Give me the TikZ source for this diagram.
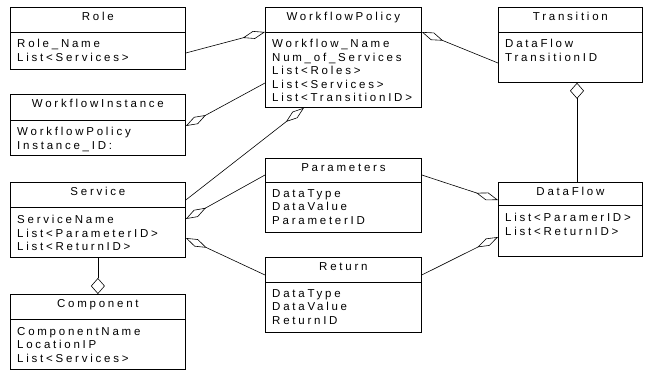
\documentclass[tikz,border=0pt]{standalone}
\usepackage{fontspec}
\setmainfont{Liberation Sans}[LetterSpace=24]
\usetikzlibrary{arrows.meta}

\tikzset{
  classbox/.style={draw, line width=0.8pt, anchor=north west, inner sep=0pt},
  classline/.style={line width=0.8pt},
  classtitle/.style={anchor=base, inner sep=0pt, font=\fontsize{11.5}{13.5}\selectfont},
  classattr/.style={anchor=north west, align=left, inner sep=0pt, font=\fontsize{11.5}{13.5}\selectfont},
  agg/.style={-{Diamond[open, length=23pt, width=8pt]}, line width=0.6pt},
  aggv/.style={-{Diamond[open, length=16pt, width=14pt]}, line width=0.6pt},
}

\begin{document}
\begin{tikzpicture}[x=1pt, y=-1pt]
  \useasboundingbox (0,0) rectangle (645,371);

  % left column
  \node[classbox, minimum width=175pt, minimum height=62pt] (role) at (10,7) {};
  \node[classtitle] (role title) at ([yshift=-14pt]role.north) {Role};
  \draw[classline] ([yshift=-25pt]role.north west) -- ([yshift=-25pt]role.north east);
  \node[classattr] (role attr) at ([xshift=7pt, yshift=-32pt]role.north west) {Role\_Name\\List<Services>};

  \node[classbox, minimum width=175pt, minimum height=61pt] (wfinst) at (10,94) {};
  \node[classtitle] (wfinst title) at ([yshift=-14pt]wfinst.north) {WorkflowInstance};
  \draw[classline] ([yshift=-26pt]wfinst.north west) -- ([yshift=-26pt]wfinst.north east);
  \node[classattr] (wfinst attr) at ([xshift=7pt, yshift=-33pt]wfinst.north west) {WorkflowPolicy\\Instance\_ID:};

  \node[classbox, minimum width=175pt, minimum height=75pt] (service) at (10,182) {};
  \node[classtitle] (service title) at ([yshift=-14pt]service.north) {Service};
  \draw[classline] ([yshift=-25pt]service.north west) -- ([yshift=-25pt]service.north east);
  \node[classattr] (service attr) at ([xshift=7pt, yshift=-33pt]service.north west) {ServiceName\\List<ParameterID>\\List<ReturnID>};

  \node[classbox, minimum width=175pt, minimum height=75pt] (component) at (10,294) {};
  \node[classtitle] (component title) at ([yshift=-14pt]component.north) {Component};
  \draw[classline] ([yshift=-25pt]component.north west) -- ([yshift=-25pt]component.north east);
  \node[classattr] (component attr) at ([xshift=7pt, yshift=-33pt]component.north west) {ComponentName\\LocationIP\\List<Services>};

  % middle column
  \node[classbox, minimum width=156pt, minimum height=100pt] (policy) at (265,7) {};
  \node[classtitle] (policy title) at ([yshift=-14pt]policy.north) {WorkflowPolicy};
  \draw[classline] ([yshift=-25pt]policy.north west) -- ([yshift=-25pt]policy.north east);
  \node[classattr] (policy attr) at ([xshift=7pt, yshift=-32pt]policy.north west) {Workflow\_Name\\Num\_of\_Services\\List<Roles>\\List<Services>\\List<TransitionID>};

  \node[classbox, minimum width=156pt, minimum height=74pt] (param) at (265,158) {};
  \node[classtitle] (param title) at ([yshift=-14pt]param.north) {Parameters};
  \draw[classline] ([yshift=-24pt]param.north west) -- ([yshift=-24pt]param.north east);
  \node[classattr] (param attr) at ([xshift=7pt, yshift=-31pt]param.north west) {DataType\\DataValue\\ParameterID};

  \node[classbox, minimum width=156pt, minimum height=75pt] (return) at (265,257) {};
  \node[classtitle] (return title) at ([yshift=-14pt]return.north) {Return};
  \draw[classline] ([yshift=-25pt]return.north west) -- ([yshift=-25pt]return.north east);
  \node[classattr] (return attr) at ([xshift=7pt, yshift=-32pt]return.north west) {DataType\\DataValue\\ReturnID};

  % right column
  \node[classbox, minimum width=144pt, minimum height=75pt] (trans) at (498,7) {};
  \node[classtitle] (trans title) at ([yshift=-14pt]trans.north) {Transition};
  \draw[classline] ([yshift=-25pt]trans.north west) -- ([yshift=-25pt]trans.north east);
  \node[classattr] (trans attr) at ([xshift=7pt, yshift=-32pt]trans.north west) {DataFlow\\TransitionID};

  \node[classbox, minimum width=144pt, minimum height=74pt] (dataflow) at (498,182) {};
  \node[classtitle] (dataflow title) at ([yshift=-14pt]dataflow.north) {DataFlow};
  \draw[classline] ([yshift=-23pt]dataflow.north west) -- ([yshift=-23pt]dataflow.north east);
  \node[classattr] (dataflow attr) at ([xshift=7pt, yshift=-31pt]dataflow.north west) {List<ParamerID>\\List<ReturnID>};

  % aggregations
  \draw[agg] ([yshift=-46pt]role.north east) -- ([yshift=-25pt]policy.north west);
  \draw[agg] ([yshift=-76pt]policy.north west) -- ([yshift=-32pt]wfinst.north east);
  \draw[agg] ([yshift=-18pt]service.north east) -- ([xshift=39pt]policy.south west);
  \draw[agg] ([yshift=-17pt]param.north west) -- ([yshift=-37pt]service.north east);
  \draw[agg] ([yshift=-18pt]return.north west) -- ([yshift=-56pt]service.north east);
  \draw[agg] ([yshift=-17pt]param.north east) -- ([yshift=-18pt]dataflow.north west);
  \draw[agg] ([yshift=-18pt]return.north east) -- ([yshift=-55pt]dataflow.north west);
  \draw[agg] ([yshift=-56pt]trans.north west) -- ([yshift=-25pt]policy.north east);
  \draw[aggv] ([xshift=79pt]dataflow.north west) -- ([xshift=79pt]trans.south west);
  \draw[aggv] (service.south) -- (component.north);
\end{tikzpicture}
\end{document}
